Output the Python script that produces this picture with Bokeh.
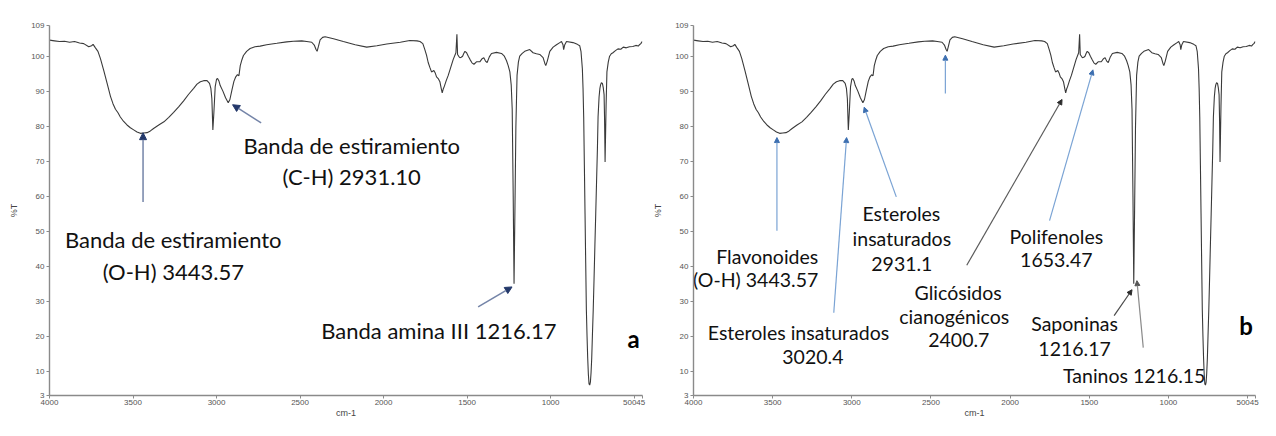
from bokeh.plotting import figure
from bokeh.models import Range1d, FixedTicker, ColumnDataSource, Arrow, NormalHead, Label
from bokeh.layouts import row
from bokeh.embed import file_html
from bokeh.resources import INLINE
from bokeh.core.properties import value

# ---------------- data ----------------
wavenumber = [4000, 3970, 3940, 3910, 3880, 3850, 3820, 3795, 3765, 3748, 3739, 3725, 3710,
              3695, 3675, 3655, 3635, 3620, 3605, 3590, 3576, 3556, 3536, 3516, 3496, 3476,
              3456, 3436, 3416, 3396, 3377, 3346, 3315, 3286, 3257, 3227, 3197, 3167, 3137,
              3117, 3097, 3077, 3057, 3042, 3034, 3028, 3022, 3016, 3008, 3000, 2994, 2985,
              2978, 2962, 2946, 2930, 2920, 2908, 2896, 2885, 2875, 2866, 2858, 2848, 2839,
              2820, 2799, 2770, 2739, 2700, 2639, 2580, 2540, 2490, 2460, 2430, 2415, 2405,
              2398, 2390, 2380, 2365, 2350, 2300, 2241, 2170, 2101, 2040, 1981, 1900, 1843,
              1800, 1782, 1765, 1753, 1743, 1733, 1723, 1713, 1699, 1690, 1683, 1673, 1663,
              1655, 1649, 1643, 1637, 1625, 1613, 1598, 1583, 1567, 1561, 1557, 1549, 1543,
              1535, 1527, 1520, 1513, 1503, 1493, 1483, 1471, 1459, 1444, 1424, 1410, 1400,
              1390, 1380, 1367, 1354, 1324, 1294, 1277, 1264, 1254, 1244, 1236, 1230, 1224,
              1219, 1214, 1208, 1201, 1193, 1185, 1170, 1155, 1125, 1105, 1085, 1065, 1045,
              1035, 1029, 1020, 1005, 985, 965, 945, 935, 926, 922, 916, 905, 866, 840, 826,
              818, 810, 806, 802, 798, 794, 790, 786, 782, 778, 774, 770, 766, 762, 758, 754,
              750, 745, 740, 735, 730, 725, 720, 716, 710, 705, 701, 696, 690, 685, 680, 677,
              674, 671, 668, 663, 655, 647, 637, 627, 612, 597, 580, 565, 547, 528, 508, 490,
              475, 468, 460, 452]
transmittance = [104.8, 104.6, 104.4, 104.5, 104.2, 104.4, 104.0, 103.8, 102.9, 103.2, 103.6,
                 102.6, 101.6, 99.5, 96.1, 92.4, 88.7, 86.6, 85.0, 84.0, 82.8, 81.5, 80.5, 79.7,
                 79.1, 78.5, 78.1, 78.2, 78.3, 78.8, 79.5, 80.5, 81.4, 82.7, 84.1, 85.7, 87.4,
                 89.3, 91.0, 92.2, 92.9, 93.2, 93.2, 92.4, 91.0, 88.0, 79.1, 84.0, 91.5, 93.6,
                 93.8, 93.0, 91.8, 90.2, 88.3, 86.9, 87.8, 90.5, 93.0, 94.3, 94.9, 94.6, 97.5,
                 99.2, 100.4, 101.6, 102.4, 102.9, 103.1, 103.5, 103.9, 104.3, 104.5, 104.6,
                 104.4, 104.2, 103.4, 102.2, 101.6, 103.0, 104.9, 105.6, 105.8, 105.2, 104.4,
                 103.5, 102.8, 103.2, 103.7, 104.2, 104.7, 104.6, 104.4, 103.8, 102.1, 100.5,
                 98.4, 97.0, 95.7, 96.1, 95.3, 94.3, 93.8, 92.9, 91.0, 89.7, 90.8, 91.5, 93.2,
                 94.7, 97.0, 99.3, 101.2, 106.5, 100.7, 100.1, 99.8, 99.9, 100.2, 101.0, 101.6,
                 101.2, 100.2, 99.3, 98.3, 97.9, 98.6, 98.6, 99.5, 99.8, 98.8, 98.4, 100.0,
                 101.0, 101.3, 101.0, 100.2, 98.9, 97.5, 95.7, 92.0, 85.0, 60.0, 35.0, 55.0,
                 80.0, 94.7, 98.5, 100.2, 101.0, 101.6, 102.1, 101.2, 100.9, 100.7, 99.8, 98.2,
                 97.5, 98.8, 101.6, 102.8, 103.5, 104.1, 104.4, 103.5, 102.1, 103.4, 104.4,
                 104.1, 103.6, 103.2, 101.5, 96.6, 91.0, 82.7, 69.0, 55.1, 41.0, 27.5, 20.0,
                 13.7, 9.0, 6.3, 6.0, 6.8, 9.5, 13.7, 20.0, 27.5, 36.5, 46.0, 55.0, 64.3, 73.5,
                 82.8, 88.5, 91.0, 92.0, 92.6, 92.4, 91.2, 89.2, 82.0, 69.9, 78.0, 86.0, 95.7,
                 98.5, 100.2, 100.9, 101.2, 101.8, 102.3, 102.2, 102.8, 102.6, 102.9, 103.0,
                 103.3, 103.1, 103.5, 103.8, 104.4]

y_ticks = [3, 10, 20, 30, 40, 50, 60, 70, 80, 90, 100, 109]
x_ticks = [4000, 3500, 3000, 2500, 2000, 1500, 1000, 500, 450]
x_tick_labels = {500: "50045", 450: ""}

# annotations, panel a
a_texts = ["Banda de estiramiento", "(O-H) 3443.57", "Banda de estiramiento",
           "(C-H) 2931.10", "Banda amina III 1216.17"]
a_text_x = [3259, 3259, 2191, 2191, 1669]
a_text_y = [47.7, 38.5, 74.5, 65.6, 21.5]
a_arrow_x0 = [3440, 2733, 1434]
a_arrow_y0 = [58.4, 81.1, 28.4]
a_arrow_x1 = [3440, 2904, 1231]
a_arrow_y1 = [78.3, 86.3, 34.1]

# annotations, panel b
b_texts = ["Flavonoides", "(O-H) 3443.57", "Esteroles insaturados", "3020.4",
           "Esteroles", "insaturados", "2931.1", "Glicósidos", "cianogénicos", "2400.7",
           "Polifenoles", "1653.47", "Saponinas", "1216.17", "Taninos 1216.15"]
b_text_x = [3212, 3212, 3337, 3246, 2687, 2684, 2684, 2328, 2353, 2324,
            1708, 1708, 1593, 1593, 1216]
b_text_y = [42.9, 36.3, 21.1, 14.1, 55.2, 48.1, 40.8, 32.4, 25.6, 19.0,
            48.6, 41.8, 23.5, 16.4, 8.8]
b_text_align = ["right", "right", "center", "center", "center", "center", "center",
                "center", "center", "center", "center", "center", "center", "center", "center"]
b_arrow_x0 = [3473, 3114, 2719, 2409, 2274, 1751, 1343, 1159]
b_arrow_y0 = [50.2, 26.7, 59.9, 89.5, 40.3, 53.1, 25.9, 16.7]
b_arrow_x1 = [3473, 3033, 2922, 2409, 1672, 1477, 1230, 1199]
b_arrow_y1 = [76.9, 76.9, 85.6, 100.5, 87.8, 96.3, 33.3, 35.9]
b_arrow_color = ["#7aa3d4", "#7aa3d4", "#7aa3d4", "#7aa3d4", "#5a5a5a", "#7aa3d4", "#4a4a4a", "#8a8a8a"]
b_head_color = ["#3d6fb0", "#3d6fb0", "#3d6fb0", "#3d6fb0", "#2b2b2b", "#3d6fb0", "#2b2b2b", "#555555"]

spec = ColumnDataSource(dict(wn=wavenumber, t=transmittance))


def make_panel(width, left, right, top, bottom):
    p = figure(width=width, height=420, output_backend="svg", toolbar_location=None,
               x_range=Range1d(4000, 450), y_range=Range1d(3, 109),
               min_border_left=left, min_border_right=right,
               min_border_top=top, min_border_bottom=bottom)
    p.outline_line_color = None
    p.xgrid.grid_line_color = None
    p.ygrid.grid_line_color = None
    p.line("wn", "t", source=spec, line_color="#3a3a3a", line_width=1.1)
    for ax in (p.xaxis[0], p.yaxis[0]):
        ax.axis_line_color = "#8a8a8a"
        ax.axis_line_width = 1.4
        ax.major_tick_line_color = "#8a8a8a"
        ax.major_tick_in = 0
        ax.major_tick_out = 3
        ax.minor_tick_line_color = None
        ax.major_label_text_font = "Liberation Sans"
        ax.major_label_text_font_size = "8px"
        ax.major_label_text_color = "#555555"
        ax.axis_label_text_font = "Liberation Sans"
        ax.axis_label_text_font_size = "9px"
        ax.axis_label_text_font_style = "normal"
        ax.axis_label_text_color = "#444444"
    p.xaxis.ticker = FixedTicker(ticks=x_ticks)
    p.xaxis.major_label_overrides = x_tick_labels
    p.xaxis.major_label_standoff = 1
    p.xaxis.axis_label = "cm-1"
    p.xaxis.axis_label_standoff = 0
    p.yaxis.ticker = FixedTicker(ticks=y_ticks)
    p.yaxis.major_label_standoff = 2
    p.yaxis.axis_label = "%T"
    p.yaxis.axis_label_standoff = 9
    return p


# ---------------- panel a ----------------
pa = make_panel(650, 49, 8, 25, 25)
src_a = ColumnDataSource(dict(x=a_text_x, y=a_text_y, text=a_texts))
pa.text("x", "y", text="text", source=src_a, text_font=value("Lato"),
        text_font_size=value("22px"), text_align=value("center"),
        text_baseline=value("middle"), text_color="#111111")
for x0, y0, x1, y1 in zip(a_arrow_x0, a_arrow_y0, a_arrow_x1, a_arrow_y1):
    pa.add_layout(Arrow(x_start=x0, y_start=y0, x_end=x1, y_end=y1,
                        line_color="#7484a8", line_width=1.5,
                        end=NormalHead(size=7, fill_color="#23386a", line_color="#23386a")))
pa.add_layout(Label(x=504, y=19.2, text="a", text_font="Lato", text_font_size="24px",
                    text_font_style="bold", text_align="center", text_baseline="middle",
                    text_color="#000000"))

# ---------------- panel b ----------------
pb = make_panel(610, 40, 5, 16, 25)
src_b = ColumnDataSource(dict(x=b_text_x, y=b_text_y, text=b_texts, align=b_text_align))
pb.text("x", "y", text="text", source=src_b, text_font=value("Lato"),
        text_font_size=value("19.5px"), text_align="align",
        text_baseline=value("middle"), text_color="#111111")
for x0, y0, x1, y1, c, hc in zip(b_arrow_x0, b_arrow_y0, b_arrow_x1, b_arrow_y1,
                                 b_arrow_color, b_head_color):
    pb.add_layout(Arrow(x_start=x0, y_start=y0, x_end=x1, y_end=y1,
                        line_color=c, line_width=1.2,
                        end=NormalHead(size=5, fill_color=hc, line_color=hc)))
pb.add_layout(Label(x=510, y=23, text="b", text_font="Lato", text_font_size="24px",
                    text_font_style="bold", text_align="center", text_baseline="middle",
                    text_color="#000000"))

layout = row(pa, pb)
open("out.html", "w").write(file_html(layout, INLINE))
